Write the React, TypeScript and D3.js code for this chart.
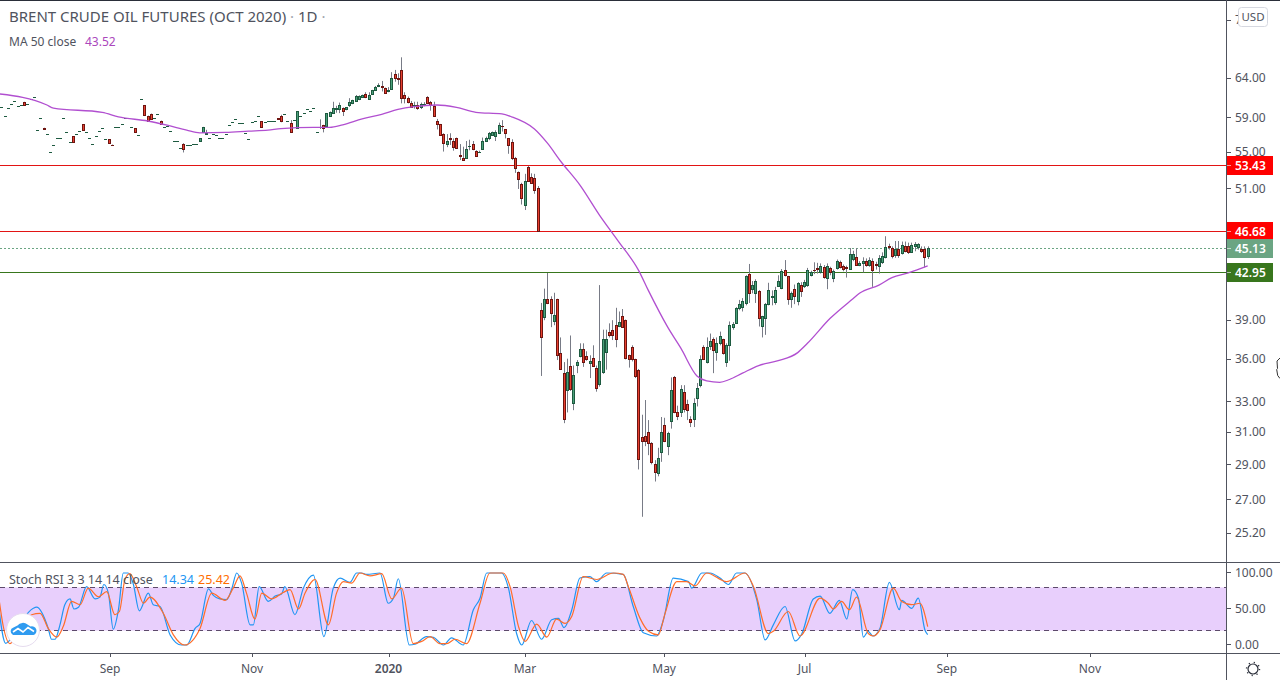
import React from "react";
import * as d3 from "d3";

type Row = number[];
// Candles are [open, high, low, close]; a row of two is [open, close] with no visible wick.
const candlesAug19: Row[] = [
  [60.83,60.83],[60.3,60.3],[59.2,59.2],[60.1,60.1],[60.6,60.6],[60.95,60.95],[60.33,60.33],[60.45,60.45],[60.9,60.55],[60.6,60.6],
  [61.2,61.2],[61.45,61.45],[57.45,57.45],[58.85,58.85],[57.75,57.65],[57,57],[55,55],[55.7,55.7],[56.5,56.5],[56.6,56.6],
  [58.85,58.85],[57.2,57.2],[56.05,56.05],[56.75,56.1],[57,57],[57.35,57.35],[58.15,57.45],[57.2,57.2],[56.5,56.5],[55.9,55.9],
  [56.75,56.75],[57.35,57.35],[57.7,57.7],[56.4,56.4],
];
const candlesSepOct19: Row[] = [
  [56.4,56],[55.8,55.7],[57.8,57.8],[57.8,57.8],[58.15,58.15],[58.85,58.85],[58.85,58.85],[57.8,57.8],[57.7,57.25],[56.85,56.85],
  [61.2,61.2],[60.5,59.3],[59.2,58.55],[59.45,58.8],[58.85,58.85],[59.45,59.45],[58.6,58.2],[57.8,57.8],[58,58],[57.35,57.35],
  [56.15,56.15],[56.15,56.15],[55.45,55.45],[55.9,55.95,54.9,55.25],[55.75,55.75],[55.75,55.75],[55.9,55.9],[55.9,55.9],[56.25,56.5],[57.25,57.85],
  [57.05,57.5,57,57.1],[56.5,56.5],[57,57],[56.85,56.85],[56.6,56.6],[56.5,56.5],[57,57],[58.1,58.1],[58.4,58.4],[58.75,58.75],
  [58.3,58.3],[58.3,58.3],[57.1,57.1],[56.4,56.4],
];
const candlesNovDec19: Row[] = [
  [58.4,58.4],[58.6,58.6],[59.1,59.1],[58.5,57.85],[58.4,58.4],[58.6,58.6],[58.5,58.5],[58.6,58.6],[58.9,58.8],
  [59.1,59.3,58.4,58.55],[59.35,59.37],[58.5,58.5],[58.3,58.66,57.2,57.27],[58.62,58.62],[57.75,59.75,57.7,59.72],[59.2,59.2],[59.47,59.47],[59.95,59.95],[59.7,59.7],
  [60.1,60.1],[57.3,57.3],[57.85,58.75,57.6,57.87],[58.05,58.1,57.2,57.75],[58,59.5,57.95,59.47],[59.2,59.7,59.15,59.65],[59.47,60.9,59.4,60.1],[59.95,60.4,59.55,60.15],[59.95,60.8,59.5,60.45],[60.1,60.2,59.15,59.8],
  [59.95,60.25,59.85,60.2],[60.55,61.35,60.25,60.85],[60.7,61.15,60.6,61.1],[61,61.75,60.9,61.6],[61.2,61.7,61.1,61.6],[61.45,61.8,61.4,61.75],[61.85,62.1,61.35,61.55],[61.3,62.1,61.25,61.7],[61.85,62.4,61.8,62.35],[62.4,62.9,62.25,62.75],
  [62.95,63.25,62.75,62.97],[62.9,63.55,62.2,62.8],[62.6,62.7,61.9,61.95],
];
const candlesJanFeb20: Row[] = [
  [62.2,62.75,62.1,62.4],[62.45,64.7,62.4,63.95],[64.45,65,63.45,64],[63.95,64.55,63.05,63.75],[64.95,66.7,60.7,61.35],[61.75,62.1,60.7,61.35],[61.35,61.55,60.7,60.9],[60.8,61,60.2,60.25],[60.5,60.9,60.05,60.52],
  [60.45,60.9,59.9,60.15],[60.3,60.8,60,60.6],[60.6,60.85,60.35,60.62],[61.55,61.6,60.7,60.75],[60.85,61,59.8,60.45],[60.35,60.9,59.1,59.15],[58.6,58.8,57.55,58.15],[58.15,58.2,56.8,56.85],[57,57.1,55,56],
  [55.9,57,55.5,56.25],[56.5,57.1,55.75,56.4],[56.2,56.5,55.1,55.5],[56.5,56.6,55.3,55.35],[54.6,55.85,54.05,54.5],[54.3,55.55,53.95,54.05],[54.3,56.2,54.25,55.25],[55.65,56.35,55.15,55.67],[55.9,56.2,55.15,55.3],
  [55.1,55.15,54.4,54.5],[54.95,55.1,54.85,54.97],[55.25,56.6,55.2,56.25],[56.15,56.7,56.1,56.6],[56.5,57.25,56.3,57.1],[56.85,57.3,56.8,57.2],[56.8,57.45,56.2,57.2],[57.1,58.35,57,58.05],[58,58.65,57.3,57.9],
  [57.55,57.6,56.5,57.1],[56.5,56.55,54.75,55.8],[56.05,56.4,54.05,54.25],[54.3,54.4,52.65,53.15],[52.7,52.8,50.95,52.05],[51.45,51.6,49.35,50],
];
const candlesMarApr20: Row[] = [
  [49.35,52.55,48.8,51.75],[53.25,53.4,51.8,51.8],[52.25,52.6,51.5,51.6],[52.15,52.55,50.45,50.8],[51,51.25,46.75,46.75],
  [39.8,40.35,34.75,37.65],[39.2,41.55,38.95,40.65],[40.7,42.9,40.25,40.35],[40.65,40.9,38.4,39.55],[38.85,41.2,38.55,39.4],[40.65,40.7,35.9,36.25],[36.45,37.6,35.2,35.25],[34.95,35.75,31.55,31.85],
  [33.75,36,32.25,35],[35.45,37.75,33.7,33.85],[32.9,35.5,32.4,34.85],[35.55,35.9,34.95,35.75],[36.2,37.15,36.1,36.75],[36.75,37.15,35.4,35.75],[36.2,36.55,35.85,36],[35.7,36.25,34.6,35.8],[36.05,37,35.4,35.5],
  [35.35,35.5,33.65,33.9],[34.15,41.85,34,35.8],[35.05,38.2,34.9,37.5],[36.5,38.2,35.2,37.5],[38,38.7,37.6,37.75],[38.2,38.95,37.4,37.75],[38.55,39.95,36.85,37.45],[38.5,39.65,38.4,38.8],[39.3,39.85,38.4,38.45],
  [38.95,39,35.95,36.05],[36.25,36.3,35.35,36],[36.85,37,35.8,35.95],[35.95,36,34.6,34.75],[35.17,35.25,28.7,29.3],[30.7,32.1,26.05,30.4],[30.75,33.08,30.1,30.4],[31,31.75,29.55,30.3],[30.3,30.35,29,29.15],
  [29,29.25,28,28.55],[28.5,30,28.3,29.4],[29.75,31.95,29.15,31],
];
const candlesMayJun20: Row[] = [
  [31.45,31.9,30.35,30.45],[30.1,31,29.55,30.9],[31.7,34.65,31.2,33.75],[34.7,34.75,32.2,32.3],[32.25,32.7,31.75,32],[32.25,34.1,31.95,33.85],[33.65,34.1,32.25,32.45],[32.8,33.1,31.75,32.4],[31.8,32,31.3,31.6],
  [31.85,33.2,31.3,32.9],[33.2,34.25,32.65,33.9],[34.1,36.25,33.95,36],[36.85,37,35.9,35.95],[35.73,37.6,35.65,36.9],[36.95,37.9,36.65,37.3],[37.45,37.6,34.95,36.65],[36.5,37.6,35.85,37.15],[37.2,38.05,37,37.7],
  [37.45,37.5,36.3,36.45],[35.75,37.15,35.4,37],[37,38.85,35.85,38.55],[38.4,38.8,38.2,38.65],[38.75,40,38.65,39.9],[39.9,40.6,39.75,40.25],[40.05,40.75,39.65,40.5],[40.35,42.7,40.15,42.6],[42.8,43.7,40.35,41.2],
  [41.5,42.2,41.15,41.85],[41.2,42.35,40.35,42.2],[41.35,41.42,38.45,39.15],[38.5,39.3,37.6,39.25],[39.15,40.35,37.8,40.25],[40.25,42.05,40.15,41.4],[40.85,41.4,40.15,40.92],[40.45,41.7,40.2,41.45],[41.8,42.7,41.7,42.2],
  [41.6,43.25,41.5,43.1],[43.2,44.05,42.6,42.75],[42.6,42.65,40.2,40.7],[40.7,41.3,39.95,41.2],[41.55,41.9,40.25,40.95],[40.55,42.1,40.15,42],[41.9,42.1,40.85,41.35],
];
const candlesJulAug20: Row[] = [
  [41.75,42.3,41.6,42.1],[41.85,43.35,41.7,43.2],[42.75,43.1,42.6,42.95],[43.2,43.85,42.8,43.15],[43.3,43.8,42.85,43.25],[42.95,43.75,42.85,43.5],[43.45,43.6,42.4,42.55],[42.5,43.75,41.5,43.5],[43.3,43.45,42.7,42.95],
  [42.5,43.2,42.1,43.1],[43.3,44.1,43.2,43.95],[43.85,44,43.3,43.45],[43.55,43.65,43.05,43.25],[43.45,43.55,42.5,43.3],[43.25,45.15,43.2,44.6],[44.15,44.9,43.95,44.6],[44.3,45.15,43.55,43.65],[43.65,43.95,43.5,43.8],
  [43.8,44.3,42.95,43.95],[44,44.2,43.45,43.65],[43.65,44.3,43.45,44.1],[44,44.2,41.7,43.15],[43.7,43.9,43.2,43.65],[43.55,44.5,42.85,44.2],[43.85,44.75,43.7,44.45],[44.3,46.25,44.2,45.2],[45.35,45.55,45,45.2],
  [45.15,45.3,44.2,44.4],[44.5,45.8,44.25,45.05],[45.05,45.8,44.25,44.5],[44.65,45.75,44.55,45.45],[45.35,45.75,44.75,44.85],[45.35,45.65,44.6,44.8],[44.8,45.65,44.75,45.45],[45.3,45.7,44.85,45.55],
  [45.25,45.6,45,45.5],[45.1,45.3,44.7,44.9],[45.05,45.3,43.4,44.35],[44.4,45.3,44.15,45.13],
];

const maIndex = [0,15,17,32,37,46,52,58,62,70,77,83,87,97,102,106,112,118,123,128,135,141,147,155,158,165,169,173,179,185,191,197,200,206,210,215,218,222,225,229,234,240,246,249,256,263,265,271,275,280,286];
const maValue = [61.9,60.5,60.1,59.6,59.05,58.55,58.05,57.47,57.15,57.2,57.35,57.47,57.65,57.8,57.8,58.1,58.8,59.35,59.95,60.3,60.5,60.2,59.6,59.4,59.05,57.6,55.95,53.95,51.35,48.3,45.7,43.15,41.42,38.4,36.8,34.75,34.4,34.3,34.5,34.95,35.5,35.85,36.45,37.15,39.1,40.7,41.15,41.85,42.5,42.9,43.52];

const kIndex = [0,2.3,3.6,6.7,10.8,11.8,15.4,16.4,17.5,19,20.5,22.1,23.3,24.7,27.2,29.8,31.3,32.5,33.9,35.4,37,38.5,40,41.6,43.4,46.2,47.7,49.8,52.9,56.4,58,60.6,62.1,64.7,66.2,68.2,70.3,71.8,73.4,74.9,77.5,78.5,80.3,83.1,85.2,87.2,88.2,91.3,93.9,97,100.2,103.1,105.2,108.2,110.3,111.8,113.4,117.5,120,121.6,123.1,126.5,128.2,131.8,133.9,137,139.5,143.1,146.2,148.25,150.3,154.9,157,159.5,161.1,164.1,167.2,170.3,172.4,174.1,176.5,179,182.1,184.1,187.2,192.3,195.4,198.5,202.6,204.7,207.7,212.4,213.4,216.5,219,222.1,224.7,227.2,229.8,233.4,236,238.5,242.1,245.2,247.2,250.8,252.9,255.9,258.8,261.1,262.9,264.7,266.2,267.7,269.1,271.3,274.2,277.3,278,281.1,283.1,285.2,286];
const kValue = [58,2.3,7,30,51,52.5,23,8,8,28,56,64,50,52.5,81,64,66.5,84,72,22,49,100,100,84,47.5,72,56,53.5,14,0,0,23,30,78,69,64,63,77,100,86,28,28,81,60.5,68,71,81,42,79,97,11.6,79,93,87,100,100,98,100,58,65,92,0,1,11.6,10.7,0,10,0,49,65,100,100,79,16,0,34,8,35,37,24,49,93,95,88,100,98,53.5,17,12.5,35,93,88,79,100,100,93,84,100,100,63,7,28,53.5,5.6,15,64,68,44,62,36,77,65,11,19,12.5,23,87,49,62,51,65,20,14.34];

const dIndex = [0,1.6,3.6,6.7,10.3,12.9,15.4,18,20,22.6,25.2,27.7,30.8,33.4,35.9,37.3,39,40.5,42.6,44.7,46.7,50.8,53.9,57.3,62.1,65.7,69.8,72.3,74.4,76.4,79,81.1,84.1,87.7,89.8,92.4,94.4,97.5,101.6,104.1,106.2,108.8,111.3,114.4,118,121.1,124.1,127.7,130.3,132.9,135.9,138,140.6,144.1,148.25,151.3,155.4,157.5,160.1,162.1,165.7,168.8,171.8,174.4,176.5,180,184.1,189.3,192.3,193.9,197.5,200.1,203.1,205.2,208.8,211.8,214.4,218,224.1,229.8,232.4,237,238.5,243.1,246.7,252.9,255.4,257,259.5,261.9,264.1,267.7,269.3,271.3,275.4,278,281.1,283.6,286];
const dValue = [72,25,2,25,42,44,23,11,25.6,60.5,56,79,67,74,42,46.5,91,99,81,58,66.5,44,14,0,23,72,62,79,96,72,36,72,64,73,77,50,72,91,28,72,88,86,100,96,99,64,79,2,5,11.6,2,2,8,2,58,100,100,81,25.6,5,29,11,36,30,40,95,91,100,98,81,37,19,14,44,88,88,82,100,88,100,81,16,19,46.5,12.5,65,58,50,60.5,49,66.5,16,12.5,21,79,60.5,56,58,25.42];

const priceTicks = [72, 64, 59, 55, 51, 39, 36, 33, 31, 29, 27, 25.2];
const stochTicks = [100, 50, 0];
const bandBounds = [80, 20];
const timeLabels = ["Sep", "Nov", "2020", "Mar", "May", "Jul", "Sep", "Nov"];
const timeIndex = [34.4, 78.1, 120.1, 162.1, 204.9, 248.1, 291.9, 335.9];

const supportResistance = [
  { value: 53.43, line: "#e21414", tag: "#ff0000", dash: "" },
  { value: 46.68, line: "#e21414", tag: "#ff0000", dash: "" },
  { value: 45.13, line: "#6ba583", tag: "#6ba583", dash: "2 2" },
  { value: 42.95, line: "#38761d", tag: "#38761d", dash: "" },
];

const FONT = "'Noto Sans', sans-serif";
const GREY = "#50535e";

const candles = [...candlesAug19, ...candlesSepOct19, ...candlesNovDec19, ...candlesJanFeb20, ...candlesMarApr20, ...candlesMayJun20, ...candlesJulAug20]
  .map((r) => r.length === 2
    ? { o: r[0], h: Math.max(r[0], r[1]), l: Math.min(r[0], r[1]), c: r[1] }
    : { o: r[0], h: r[1], l: r[2], c: r[3] });

const x = d3.scaleLinear().domain([0, 286]).range([-1.8, 927.7]);
const y = d3.scaleLog().domain([64, 25.2]).range([77.5, 533]);
const yS = d3.scaleLinear().domain([100, 0]).range([573, 645]);

export default function App() {
  const maLine = d3.line<number>().x((_, i) => x(maIndex[i])).y((v) => y(v)).curve(d3.curveMonotoneX);
  const kLine = d3.line<number>().x((_, i) => x(kIndex[i])).y((v) => yS(v)).curve(d3.curveMonotoneX);
  const dLine = d3.line<number>().x((_, i) => x(dIndex[i])).y((v) => yS(v)).curve(d3.curveMonotoneX);
  return (
    <svg width={1280} height={680} viewBox="0 0 1280 680"
      style={{ position: "fixed", left: 0, top: 0, background: "#fff", fontFamily: FONT }}>
      <defs>
        <clipPath id="main"><rect x={0} y={0} width={1226} height={562} /></clipPath>
        <clipPath id="pane"><rect x={0} y={563} width={1226} height={90} /></clipPath>
      </defs>
      <rect x={0} y={0} width={1280} height={1} fill="#2a2e39" />

      {/* price lines */}
      {supportResistance.map((s) => (
        <line key={s.value} x1={0} x2={1226} y1={Math.floor(y(s.value)) + 0.5} y2={Math.floor(y(s.value)) + 0.5}
          stroke={s.line} strokeWidth={1} strokeDasharray={s.dash} />
      ))}

      {/* candles */}
      <g clipPath="url(#main)">
        {candles.map((d, i) => {
          const cx = Math.round(x(i));
          const up = d.c >= d.o;
          const top = Math.round(y(Math.max(d.o, d.c)));
          const bot = Math.round(y(Math.min(d.o, d.c)));
          const h = bot - top + 1;
          return (
            <g key={i}>
              <line x1={cx + 0.5} x2={cx + 0.5} y1={y(d.h)} y2={y(d.l)} stroke="#787b86" strokeWidth={1} />
              <rect x={cx - 1} y={top} width={3} height={h} fill={up ? "#1d5a40" : "#6e1410"} />
              {h > 2 && <rect x={cx} y={top + 1} width={1} height={h - 2} fill={up ? "#4aa07a" : "#e8402f"} />}
            </g>
          );
        })}
        <path d={maLine(maValue) ?? ""} fill="none" stroke="#b14fd0" strokeWidth={1.3} />
      </g>

      {/* stochastic pane */}
      <rect x={0} y={yS(bandBounds[0])} width={1226} height={yS(bandBounds[1]) - yS(bandBounds[0])} fill="#e8cffc" />
      {bandBounds.map((b) => (
        <line key={b} x1={0} x2={1226} y1={Math.floor(yS(b)) + 0.5} y2={Math.floor(yS(b)) + 0.5}
          stroke="#5d4a6b" strokeWidth={1} strokeDasharray="5 4" />
      ))}
      <g clipPath="url(#pane)">
        <path d={kLine(kValue) ?? ""} fill="none" stroke="#2196f3" strokeWidth={1.2} />
        <path d={dLine(dValue) ?? ""} fill="none" stroke="#ff6d2a" strokeWidth={1.2} />
      </g>

      {/* pane frame */}
      <line x1={0} x2={1280} y1={562.5} y2={562.5} stroke={GREY} />
      <line x1={0} x2={1280} y1={653.5} y2={653.5} stroke={GREY} />
      <line x1={1226.5} x2={1226.5} y1={0} y2={680} stroke={GREY} />

      {/* price axis */}
      {priceTicks.map((t) => (
        <g key={t}>
          <line x1={1227} x2={1231} y1={Math.round(y(t)) + 0.5} y2={Math.round(y(t)) + 0.5} stroke={GREY} />
          <text x={1235} y={y(t)} dy="0.36em" fontSize={12} fill={GREY}>{t.toFixed(2)}</text>
        </g>
      ))}
      {stochTicks.map((t) => (
        <g key={t}>
          <line x1={1227} x2={1231} y1={Math.round(yS(t)) - 0.5} y2={Math.round(yS(t)) - 0.5} stroke={GREY} />
          <text x={1235} y={yS(t)} dy="0.36em" fontSize={12} fill={GREY}>{t.toFixed(2)}</text>
        </g>
      ))}

      {/* price tags */}
      {supportResistance.map((s) => {
        const py = y(s.value);
        return (
          <g key={s.value}>
            <rect x={1227} y={Math.floor(py) - 9} width={46} height={19} fill={s.tag} />
            <line x1={1227} x2={1231} y1={Math.floor(py) + 0.5} y2={Math.floor(py) + 0.5} stroke="#fff" opacity={0.6} />
            <text x={1235} y={py} dy="0.36em" fontSize={12} fontWeight={600} fill="#fff">{s.value.toFixed(2)}</text>
          </g>
        );
      })}

      {/* currency button */}
      <rect x={1238.5} y={7.5} width={29} height={19} rx={3} fill="#fff" stroke="#d6d8e0" />
      <text x={1253} y={17} dy="0.36em" textAnchor="middle" fontSize={11.5} fill={GREY}>USD</text>

      {/* time axis */}
      {timeLabels.map((t, i) => (
        <g key={i}>
          <line x1={Math.round(x(timeIndex[i])) + 0.5} x2={Math.round(x(timeIndex[i])) + 0.5} y1={654} y2={657} stroke={GREY} />
          <text x={x(timeIndex[i])} y={669} dy="0.36em" textAnchor="middle" fontSize={12}
            fontWeight={t === "2020" ? 600 : 400} fill={GREY}>{t}</text>
        </g>
      ))}

      {/* legends */}
      <text x={9} y={22} fontSize={15} fill={GREY}>BRENT CRUDE OIL FUTURES (OCT 2020) <tspan fill="#a0a3ad">·</tspan> 1D <tspan fill="#a0a3ad">·</tspan></text>
      <text x={9} y={46} fontSize={12} fill={GREY}>MA 50 close</text>
      <text x={85} y={46} fontSize={12} fill="#ab47bc">43.52</text>
      <text x={9} y={584} fontSize={12.5} fill={GREY}>Stoch RSI 3 3 14 14 close</text>
      <text x={162} y={584} fontSize={12.5} fill="#2196f3">14.34</text>
      <text x={198} y={584} fontSize={12.5} fill="#ff6d00">25.42</text>

      {/* logo */}
      <circle cx={23} cy={630} r={16.5} fill="#fff" stroke="#e6dcef" />
      <path d="M13 635 a4 4 0 0 1 0.5 -7.5 l4 -2 a7 7 0 0 1 10 -1 l3 2 a4.5 4.5 0 0 1 3 8.5 z" fill="#2f9bf0" />
      <path d="M13 632 l5 -3.5 l5 3.5 l5 -4.5 l6 4" fill="none" stroke="#fff" strokeWidth={1.6} />

      {/* settings gear */}
      <circle cx={1253} cy={669} r={5} fill="none" stroke="#2a2e39" strokeWidth={1.2} />
      <circle cx={1253} cy={669} r={6.5} fill="none" stroke="#2a2e39" strokeWidth={1.4} strokeDasharray="1.2 3.9" />

      {/* mouse cursor */}
      <path d="M1280 358 l-3 3 l0.5 7.5 l-0.8 1 l1 6 l2.3 3" fill="none" stroke="#333" strokeWidth={1} />
    </svg>
  );
}
